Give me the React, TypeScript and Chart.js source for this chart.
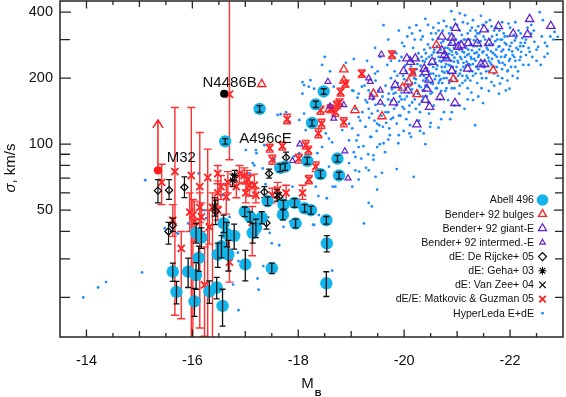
import React, { useEffect, useRef } from 'react';
import { Chart, registerables } from 'chart.js';
import { drawPoint } from 'chart.js/helpers';

Chart.register(...registerables);

// ---------------- axis ticks ----------------
const xTickLabels = [-14, -16, -18, -20, -22];
const xMajorTicks = [-14, -15, -16, -17, -18, -19, -20, -21, -22];
const xMinorTicks = [-14.5, -15.5, -16.5, -17.5, -18.5, -19.5, -20.5, -21.5, -22.5];
const yTickLabels = [50, 100, 200, 400];
const yMinorTicks = [20, 30, 40, 60, 70, 80, 90, 300];

// ---------------- data: [M_B, sigma, ±err] ----------------
const abell496 = [
  [-18.48, 174, 5], [-18.33, 152, 5], [-18.26, 125, 4], [-17.27, 145, 5], [-16.62, 103, 3],
  [-18.17, 84, 3], [-18.74, 86, 3], [-18.42, 73, 3], [-18.77, 72, 2.5], [-17.66, 78, 3],
  [-17.75, 79, 3], [-17.42, 55, 2.5], [-17.72, 53, 2.5], [-17.93, 54, 2.5], [-18.12, 51, 2],
  [-18.24, 50, 2], [-17.71, 47.7, 2.5], [-17.95, 43.5, 2], [-18.53, 45, 1.8], [-16.99, 49.2, 2.5],
  [-17.09, 46.6, 2.5], [-17.31, 46.3, 3], [-17.2, 41.5, 4], [-17.14, 39.4, 4], [-16.59, 43.5, 4],
  [-16.65, 39, 5], [-16.79, 38.2, 5], [-16.07, 39.4, 4], [-16.17, 37.5, 4], [-16.55, 34.3, 4],
  [-16.48, 31.4, 4], [-16.68, 31.4, 5], [-16.12, 30.3, 4], [-15.63, 26.2, 2.5], [-15.92, 26.2, 4],
  [-16.07, 25.3, 3.5], [-15.7, 21.2, 2.5], [-16.32, 21.3, 2.5], [-16.46, 22.2, 2.5], [-16.04, 19.2, 2.8],
  [-16.57, 18.3, 3.5], [-17.0, 28.3, 4.5], [-17.5, 27.2, 1.5], [-18.54, 35.3, 3], [-18.53, 23.2, 3],
];

const benderBulges = [
  [-17.31, 188], [-19.07, 143], [-18.58, 144], [-18.86, 195], [-18.86, 219], [-19.42, 170],
  [-19.58, 134], [-19.97, 181], [-20.08, 192], [-20.24, 169], [-20.61, 283], [-20.93, 198], [-21.68, 217],
];

const benderGiant = [
  [-20.97, 339], [-21.51, 334], [-21.78, 345], [-22.37, 372], [-22.77, 346], [-22.06, 319], [-22.33, 317],
  [-21.6, 289], [-21.38, 288], [-21.21, 289], [-21.02, 278], [-20.9, 306], [-20.71, 309], [-20.91, 290],
  [-21.08, 282], [-20.71, 268], [-20.76, 255], [-20.8, 246], [-20.53, 237], [-20.38, 221], [-20.4, 213],
  [-20.47, 197], [-20.43, 179], [-20.4, 159], [-20.48, 148], [-20.68, 164], [-20.96, 154], [-20.9, 216],
  [-21.2, 221], [-21.45, 232], [-21.52, 232], [-20.05, 246], [-20.12, 237], [-20.21, 246], [-19.99, 215],
  [-19.83, 186], [-20.07, 176], [-19.8, 155], [-20.24, 123],
];

const benderIntermed = [
  [-19.57, 257], [-19.33, 200], [-19.55, 176], [-19.55, 155], [-19.39, 164], [-18.56, 193], [-18.86, 151],
  [-18.6, 149], [-18.67, 131], [-18.03, 100], [-17.89, 84], [-18.88, 93], [-18.94, 70], [-19.36, 193],
];

// [M_B, sigma, low, high]
const deRijcke = [
  [-15.35, 61.4, 54, 69], [-15.56, 61.7, 56, 69], [-15.85, 63.6, 57, 71], [-15.55, 40, 35, 44],
  [-15.63, 42.7, 40, 46], [-16.44, 49.4, 43, 55.5], [-17.36, 60.5, 57, 64], [-17.4, 43.7, 41, 46.5],
  [-17.77, 87, 82, 92], [-17.45, 73.5, 70, 77], [-17.64, 57.5, 55, 60],
];
const geha = [[-16.76, 68.5, 64, 73], [-16.8, 72, 68, 76]];
const vanZee = [[-17.6, 58.6, 55, 62], [-16.42, 52, 47, 57]];

const matkovic = [
  [-15.42, 67, 53, 81], [-15.67, 75, 16.6, 147], [-15.98, 72, 10, 147], [-16.14, 64, 14.5, 113],
  [-16.29, 70.5, 10, 95], [-16.48, 73.5, 66, 80], [-15.95, 49, 40, 60], [-16.01, 47.5, 10, 56],
  [-16.04, 44.3, 36, 55], [-16.14, 51.5, 44, 60], [-16.17, 46.6, 40, 54], [-16.32, 42, 35, 50],
  [-16.38, 51.5, 12, 60], [-16.48, 60, 52, 68], [-16.54, 64, 56, 72], [-16.64, 57.5, 48, 66],
  [-16.67, 67, 60, 75], [-16.83, 64, 57, 71], [-16.89, 73.5, 67, 80], [-17.01, 60, 54, 66],
  [-17.04, 69, 62, 76], [-17.08, 65, 58, 72], [-15.63, 45, 38, 53], [-15.79, 33.5, 16, 40],
  [-16.23, 22.8, 13.3, 34], [-16.7, 29, 23.5, 36.5], [-16.48, 50, 45, 56], [-17.17, 65, 58, 73],
  [-16.98, 72, 66, 78], [-17.2, 58.5, 54, 63], [-17.51, 58.5, 54, 63], [-17.61, 62, 57, 67],
  [-17.77, 60, 55, 65], [-18.08, 60, 56, 65], [-17.13, 44, 31, 52], [-16.7, 169, 85, 600],
  [-17.79, 130, 124, 137], [-18.38, 112, 107, 118], [-18.44, 124, 118, 130], [-18.8, 173, 166, 180],
  [-18.7, 140, 134, 146], [-18.86, 126, 120, 132], [-18.14, 99, 95, 104], [-18.19, 94, 90, 98],
  [-18.01, 86, 82, 90], [-17.46, 96, 92, 100], [-17.51, 85, 81, 89], [-17.7, 98, 94, 102],
  [-18.33, 79, 75, 83], [-18.2, 69, 66, 72], [-19.77, 256, 246, 266], [-19.2, 210, 202, 218],
  [-20.16, 213, 205, 221], [-18.61, 145, 139, 151], [-18.42, 143, 137, 149], [-18.78, 155, 149, 161],
  [-18.89, 189, 182, 196], [-18.73, 151, 145, 157],
];

// HyperLeda E+dE
const hyperDwarf = [
  [-13.94, 20], [-14.22, 22.2], [-14.37, 23.5], [-15.05, 26], [-15.48, 41.3], [-15.73, 39], [-15.92, 43.5],
  [-15.11, 68.5], [-16.12, 73.5], [-16.23, 50], [-16.57, 58.5], [-17.08, 73.5], [-17.17, 80], [-17.01, 94],
  [-17.21, 91], [-15.7, 39.3], [-16.67, 56], [-16.26, 46], [-16.48, 49], [-16.86, 32], [-16.87, 29.3],
  [-16.77, 22.9], [-16.87, 17.5], [-17.23, 24.4], [-17.25, 21.7], [-18.38, 58], [-18.54, 56.7], [-19.24, 43.5],
  [-19.33, 54], [-19.39, 52], [-17.85, 44.5], [-17.72, 42], [-18.28, 43], [-17.5, 35.3], [-17.64, 34.6],
  [-17.34, 27.8], [-18.64, 26.5], [-17.46, 39.4], [-17.89, 64], [-18.3, 42.8], [-18.65, 64], [-17.38, 65.7],
  [-16.7, 46.6], [-18.39, 47.5],
];
const hyperTail = [
  [-18.11, 186], [-18.2, 183], [-18.3, 179], [-18.08, 170], [-17.67, 137], [-17.77, 140], [-17.83, 126],
  [-18.02, 129], [-18.11, 138], [-18.14, 116], [-18.52, 112], [-18.58, 106], [-18.64, 102], [-18.45, 97],
  [-18.36, 91], [-18.02, 91], [-17.92, 88], [-17.7, 97], [-17.36, 99], [-17.2, 94], [-17.14, 82],
  [-17.33, 77.5], [-17.55, 85], [-18.36, 76], [-18.58, 79], [-18.96, 82], [-19.08, 76], [-19.14, 69],
  [-19.02, 64], [-18.7, 64], [-18.33, 64], [-19.08, 87.5], [-19.14, 97], [-18.96, 104], [-18.83, 116],
  [-18.96, 124], [-19.14, 133], [-19.27, 120], [-19.36, 108], [-19.39, 138], [-19.27, 159], [-19.14, 170],
  [-19.02, 176], [-19.2, 183], [-19.33, 176], [-19.42, 164], [-19.46, 151], [-19.49, 124], [-19.49, 97],
  [-19.42, 85], [-19.33, 76], [-19.46, 71], [-19.49, 62], [-18.77, 170], [-18.67, 183], [-18.23, 196],
  [-18.08, 192], [-17.61, 136], [-18.45, 230], [-18.6, 215], [-18.5, 250], [-18.9, 235], [-19.05, 245],
];
const hyperCloud = [
  [-19.02, 118], [-19.05, 92], [-19.08, 145], [-19.1, 104], [-19.12, 163], [-19.15, 75], [-19.17, 128],
  [-19.19, 86], [-19.04, 175], [-19.13, 110], [-19.21, 140], [-19.23, 98], [-19.25, 185], [-19.27, 120],
  [-19.3, 155], [-19.32, 90], [-19.34, 132], [-19.36, 170], [-19.38, 108], [-19.39, 225], [-19.28, 78],
  [-19.33, 145], [-19.41, 160], [-19.42, 89], [-19.44, 128], [-19.46, 195], [-19.48, 115], [-19.5, 142],
  [-19.52, 176], [-19.54, 100], [-19.55, 250], [-19.57, 135], [-19.58, 74], [-19.59, 165], [-19.45, 210],
  [-19.53, 122], [-19.61, 101], [-19.61, 349], [-19.63, 150], [-19.65, 185], [-19.66, 125], [-19.68, 230],
  [-19.7, 140], [-19.71, 170], [-19.73, 110], [-19.75, 200], [-19.76, 158], [-19.78, 265], [-19.79, 132],
  [-19.64, 92], [-19.72, 118], [-19.77, 178], [-19.81, 145], [-19.82, 215], [-19.84, 172], [-19.86, 77],
  [-19.86, 124], [-19.88, 190], [-19.89, 101], [-19.9, 156], [-19.91, 240], [-19.93, 135], [-19.94, 180],
  [-19.96, 290], [-19.97, 148], [-19.98, 205], [-19.99, 115], [-19.85, 260], [-19.92, 165], [-20.01, 160],
  [-20.02, 228], [-20.04, 130], [-20.05, 195], [-20.06, 310], [-20.08, 172], [-20.09, 140], [-20.1, 250],
  [-20.12, 185], [-20.13, 108], [-20.14, 210], [-20.15, 155], [-20.17, 275], [-20.18, 71], [-20.18, 168],
  [-20.19, 200], [-20.03, 180], [-20.11, 122], [-20.16, 238], [-20.21, 190], [-20.22, 145], [-20.23, 349],
  [-20.24, 220], [-20.26, 170], [-20.27, 260], [-20.28, 128], [-20.3, 205], [-20.31, 182], [-20.32, 300],
  [-20.34, 158], [-20.35, 240], [-20.36, 195], [-20.37, 112], [-20.38, 270], [-20.39, 175], [-20.25, 232],
  [-20.33, 215], [-20.29, 152], [-20.4, 100], [-20.4, 373], [-20.41, 200], [-20.42, 245], [-20.43, 165],
  [-20.45, 285], [-20.46, 215], [-20.47, 138], [-20.48, 230], [-20.5, 190], [-20.51, 320], [-20.52, 255],
  [-20.53, 172], [-20.55, 210], [-20.56, 150], [-20.57, 270], [-20.58, 198], [-20.59, 235], [-20.44, 182],
  [-20.54, 300], [-20.49, 120], [-20.61, 220], [-20.62, 180], [-20.63, 262], [-20.65, 119], [-20.65, 357],
  [-20.66, 205], [-20.67, 240], [-20.68, 160], [-20.7, 290], [-20.71, 225], [-20.72, 190], [-20.73, 330],
  [-20.74, 248], [-20.75, 140], [-20.76, 212], [-20.77, 275], [-20.78, 175], [-20.79, 232], [-20.64, 305],
  [-20.69, 198], [-20.8, 258], [-20.81, 215], [-20.82, 300], [-20.83, 159], [-20.84, 245], [-20.85, 195],
  [-20.86, 270], [-20.87, 228], [-20.88, 340], [-20.89, 404], [-20.9, 180], [-20.91, 255], [-20.92, 210],
  [-20.93, 312], [-20.94, 238], [-20.95, 150], [-20.96, 285], [-20.97, 200], [-20.98, 262], [-20.99, 225],
  [-20.87, 130], [-21.01, 240], [-21.02, 205], [-21.03, 290], [-21.04, 170], [-21.05, 330], [-21.06, 250],
  [-21.07, 218], [-21.08, 275], [-21.1, 190], [-21.11, 360], [-21.12, 235], [-21.13, 262], [-21.14, 145],
  [-21.15, 387], [-21.16, 300], [-21.17, 228], [-21.18, 205], [-21.19, 255], [-21.09, 315], [-21.2, 180],
  [-21.21, 270], [-21.22, 232], [-21.24, 300], [-21.25, 195], [-21.26, 250], [-21.28, 340], [-21.29, 215],
  [-21.3, 159], [-21.3, 368], [-21.31, 280], [-21.32, 245], [-21.34, 122], [-21.35, 310], [-21.36, 225],
  [-21.37, 262], [-21.38, 190], [-21.39, 290], [-21.27, 172], [-21.41, 255], [-21.42, 320], [-21.44, 230],
  [-21.45, 280], [-21.47, 200], [-21.48, 350], [-21.49, 154], [-21.5, 265], [-21.52, 240], [-21.53, 300],
  [-21.55, 215], [-21.56, 275], [-21.58, 330], [-21.59, 248], [-21.46, 180], [-21.61, 285], [-21.62, 368],
  [-21.63, 235], [-21.65, 192], [-21.66, 310], [-21.68, 260], [-21.7, 225], [-21.72, 295], [-21.74, 340],
  [-21.75, 250], [-21.77, 205], [-21.78, 278], [-21.79, 170], [-21.81, 189], [-21.82, 300], [-21.84, 265],
  [-21.86, 235], [-21.88, 320], [-21.9, 250], [-21.92, 176], [-21.93, 285], [-21.95, 215], [-21.96, 217],
  [-21.97, 355], [-21.99, 179], [-21.98, 270], [-22.02, 225], [-22.03, 290], [-22.05, 255], [-22.07, 315],
  [-22.09, 297], [-22.1, 240], [-22.12, 275], [-22.14, 200], [-22.16, 330], [-22.18, 242], [-22.19, 280],
  [-22.21, 264], [-22.23, 305], [-22.25, 230], [-22.28, 290], [-22.3, 255], [-22.33, 340], [-22.35, 275],
  [-22.37, 264], [-22.4, 319], [-22.42, 250], [-22.46, 293], [-22.5, 270], [-22.53, 278], [-22.56, 400],
  [-22.58, 230], [-22.62, 368], [-22.66, 290], [-22.71, 259], [-22.76, 310], [-22.84, 325], [-22.9, 309],
];
const hyperCore = [
  [-19.82, 182], [-19.87, 205], [-19.95, 172], [-20.0, 198], [-20.03, 215], [-20.07, 188], [-20.1, 205],
  [-20.13, 226], [-20.15, 178], [-20.2, 212], [-20.22, 198], [-20.26, 245], [-20.28, 185], [-20.31, 228],
  [-20.33, 250], [-20.35, 176], [-20.37, 205], [-20.39, 238], [-20.41, 260], [-20.43, 222], [-20.45, 195],
  [-20.47, 250], [-20.49, 275], [-20.5, 210], [-20.52, 232], [-20.54, 188], [-20.56, 262], [-20.58, 245],
  [-20.6, 205], [-20.62, 280], [-20.63, 228], [-20.65, 250], [-20.67, 195], [-20.69, 270], [-20.7, 238],
  [-20.72, 215], [-20.74, 295], [-20.75, 260], [-20.77, 225], [-20.78, 245], [-20.8, 200], [-20.82, 275],
  [-20.84, 230], [-20.85, 258], [-20.86, 210], [-20.88, 290], [-20.89, 240], [-20.9, 265], [-20.92, 225],
  [-20.94, 275], [-20.95, 248], [-20.97, 215], [-20.98, 300], [-21.0, 258], [-21.02, 235], [-21.04, 270],
  [-21.05, 210], [-21.07, 295], [-21.08, 245], [-21.1, 265], [-21.12, 225], [-21.13, 300], [-21.15, 250],
  [-21.17, 275], [-21.18, 238], [-21.2, 320], [-21.22, 258], [-21.23, 215], [-21.25, 285], [-21.27, 245],
  [-21.28, 268], [-21.3, 232], [-21.32, 298], [-21.33, 260], [-21.35, 240], [-21.37, 280], [-21.38, 320],
  [-21.4, 250], [-21.42, 270], [-21.44, 295], [-21.46, 240], [-21.48, 262], [-21.5, 310], [-21.52, 225],
  [-21.54, 285], [-21.56, 255], [-21.58, 270], [-21.6, 240], [-21.62, 300], [-21.64, 265], [-21.66, 245],
  [-21.68, 285], [-21.7, 330], [-21.72, 255], [-21.74, 270], [-21.76, 300], [-21.78, 240], [-21.8, 280],
  [-21.83, 250], [-21.85, 300], [-21.87, 270], [-21.9, 290], [-21.92, 255], [-21.95, 310], [-21.98, 240],
  [-22.0, 280], [-22.04, 265], [-22.08, 250], [-22.11, 305], [-22.15, 270], [-22.2, 290], [-22.25, 280],
  [-22.3, 300], [-19.6, 120], [-19.65, 140], [-19.7, 160], [-19.75, 130], [-19.8, 170], [-19.85, 150],
  [-19.9, 135], [-19.95, 160], [-20.0, 145], [-20.05, 165], [-20.1, 150], [-20.15, 190], [-20.2, 160],
  [-20.25, 175], [-20.3, 140], [-20.35, 165], [-20.4, 185], [-20.45, 155], [-20.5, 170], [-20.55, 225],
  [-20.6, 180], [-20.65, 190], [-20.7, 175], [-20.75, 200], [-20.8, 180], [-20.85, 190], [-20.9, 195],
  [-20.95, 180], [-21.0, 195], [-21.05, 185], [-21.1, 205], [-21.15, 195], [-21.2, 200], [-21.25, 230],
  [-21.3, 205], [-21.35, 210], [-21.4, 220], [-21.45, 210], [-21.5, 225], [-21.55, 200], [-21.6, 215],
  [-21.65, 230], [-21.7, 210], [-21.75, 225], [-21.8, 235], [-21.85, 220], [-21.9, 230], [-22.0, 245],
  [-22.1, 225], [-22.2, 250],
];
const hyperUpper = [
  [-19.3, 240], [-19.45, 275], [-19.7, 300], [-19.9, 330], [-20.1, 340], [-20.0, 280], [-20.2, 300],
  [-20.3, 330], [-20.45, 350], [-20.55, 340], [-20.6, 320], [-20.75, 365], [-20.8, 345], [-20.95, 370],
  [-21.0, 350], [-21.05, 395], [-21.2, 355], [-21.25, 330], [-21.4, 345], [-21.45, 385], [-21.55, 360],
  [-21.65, 345], [-21.8, 330], [-21.85, 360], [-22.0, 340], [-22.1, 360], [-22.2, 320], [-22.45, 330],
  [-22.6, 310], [-22.7, 280], [-22.82, 300], [-22.4, 350], [-21.9, 310], [-21.75, 315], [-21.35, 330],
  [-20.85, 320], [-20.65, 330], [-20.35, 310], [-20.15, 320], [-19.95, 250], [-19.75, 240], [-19.5, 215],
  [-22.5, 240], [-22.65, 250], [-22.35, 230], [-22.15, 215], [-22.05, 205], [-21.95, 195], [-21.85, 200],
  [-21.7, 185], [-21.6, 175], [-21.4, 165], [-21.2, 160], [-21.05, 150], [-20.9, 140], [-20.7, 130],
  [-20.5, 125], [-20.3, 115], [-20.1, 112], [-19.9, 110], [-19.7, 105],
];

// special galaxies
const n4486b = [[-16.6, 170]];
const m32 = [[-15.35, 76]];
const m32LowerLimitTop = 129;
const a496ce = [-16.62, 103];

// labels
const annotations = [
  { text: 'N4486B', ref: 'n4486b', dx: 5.5, dy: -6.5, align: 'center' },
  { text: 'A496cE', ref: 'a496ce', dx: 14, dy: 2, align: 'left' },
  { text: 'M32', ref: 'm32', dx: 8.7, dy: -8.5, align: 'left' },
];

const FONT = '"Liberation Sans", Arial, Helvetica, sans-serif';
const CYAN = '#12b4ea';
const BLUE = '#1e8cff';
const RED = '#ff1e1e';
const PURPLE = '#6221c9';
const INK = '#111111';

const toPts = (rows) => rows.map((r) => ({ x: r[0], y: r[1] }));

const errorBarPlugin = {
  id: 'errorBars',
  afterDatasetDraw(chart, args) {
    const ds = chart.data.datasets[args.index];
    if (!ds.errBars) return;
    const ctx = chart.ctx;
    const area = chart.chartArea;
    const ys = chart.scales.y;
    ctx.save();
    ctx.beginPath();
    ctx.rect(area.left, area.top, area.right - area.left, area.bottom - area.top);
    ctx.clip();
    ctx.strokeStyle = ds.errColor;
    ctx.lineWidth = ds.errWidth;
    const cap = ds.errCap;
    ds.errBars.forEach((b, i) => {
      const el = args.meta.data[i];
      if (!el) return;
      const x = el.x;
      const yl = ys.getPixelForValue(b[0]);
      const yh = ys.getPixelForValue(b[1]);
      ctx.beginPath();
      ctx.moveTo(x, yl);
      ctx.lineTo(x, yh);
      ctx.moveTo(x - cap, yl);
      ctx.lineTo(x + cap, yl);
      ctx.moveTo(x - cap, yh);
      ctx.lineTo(x + cap, yh);
      ctx.stroke();
    });
    ctx.restore();
  },
};

const decorPlugin = {
  id: 'decor',
  afterDraw(chart) {
    const ctx = chart.ctx;
    const a = chart.chartArea;
    const xs = chart.scales.x;
    const ys = chart.scales.y;
    ctx.save();
    // frame
    ctx.strokeStyle = '#262626';
    ctx.lineWidth = 1.5;
    ctx.strokeRect(a.left, a.top, a.right - a.left, a.bottom - a.top);
    // inward ticks
    ctx.lineWidth = 1.3;
    const xt = (v, len) => {
      const p = xs.getPixelForValue(v);
      ctx.beginPath();
      ctx.moveTo(p, a.bottom);
      ctx.lineTo(p, a.bottom - len);
      ctx.moveTo(p, a.top);
      ctx.lineTo(p, a.top + len);
      ctx.stroke();
    };
    xMajorTicks.forEach((v) => xt(v, xTickLabels.includes(v) ? 7.5 : 6));
    xMinorTicks.forEach((v) => xt(v, 4));
    const yt = (v, lenL, lenR) => {
      const p = ys.getPixelForValue(v);
      ctx.beginPath();
      ctx.moveTo(a.left, p);
      ctx.lineTo(a.left + lenL, p);
      ctx.moveTo(a.right, p);
      ctx.lineTo(a.right - lenR, p);
      ctx.stroke();
    };
    yTickLabels.forEach((v) => yt(v, 11, 9));
    yMinorTicks.forEach((v) => yt(v, 10, 8));

    // M32 lower-limit arrow
    const mx = xs.getPixelForValue(m32[0][0]);
    const my = ys.getPixelForValue(m32[0][1]);
    const ty = ys.getPixelForValue(m32LowerLimitTop);
    ctx.strokeStyle = RED;
    ctx.lineWidth = 1.5;
    ctx.beginPath();
    ctx.moveTo(mx, my);
    ctx.lineTo(mx, ty);
    ctx.moveTo(mx - 5, ty + 8);
    ctx.lineTo(mx, ty);
    ctx.lineTo(mx + 5, ty + 8);
    ctx.stroke();

    // annotations
    ctx.fillStyle = INK;
    ctx.font = `15px ${FONT}`;
    ctx.textBaseline = 'alphabetic';
    const refs = { n4486b: n4486b[0], a496ce, m32: m32[0] };
    annotations.forEach((an) => {
      const r = refs[an.ref];
      const px = xs.getPixelForValue(r[0]);
      const py = ys.getPixelForValue(r[1]);
      ctx.textAlign = an.align;
      ctx.fillText(an.text, px + an.dx, py + an.dy);
    });

    // axis titles
    ctx.save();
    ctx.translate(14.5, 168);
    ctx.rotate(-Math.PI / 2);
    ctx.font = `italic 15px ${FONT}`;
    const w1 = ctx.measureText('σ').width;
    ctx.font = `15px ${FONT}`;
    const w2 = ctx.measureText(', km/s').width;
    const start = -(w1 + w2) / 2;
    ctx.textAlign = 'left';
    ctx.font = `italic 15px ${FONT}`;
    ctx.fillText('σ', start, 0);
    ctx.font = `15px ${FONT}`;
    ctx.fillText(', km/s', start + w1, 0);
    ctx.restore();

    const cx = (a.left + a.right) / 2;
    ctx.font = `15px ${FONT}`;
    const mw = ctx.measureText('M').width;
    ctx.font = `bold 9.5px ${FONT}`;
    const bw = ctx.measureText('B').width;
    const sx = cx - (mw + bw + 1) / 2;
    ctx.textAlign = 'left';
    ctx.font = `15px ${FONT}`;
    ctx.fillText('M', sx, 387.5);
    ctx.font = `bold 9.5px ${FONT}`;
    ctx.fillText('B', sx + mw + 1, 396);

    // legend
    const rows = chart.data.datasets.filter((d) => d.legendRow !== undefined);
    rows.sort((p, q) => p.legendRow - q.legendRow);
    ctx.font = `10.6px ${FONT}`;
    ctx.textAlign = 'right';
    ctx.textBaseline = 'middle';
    rows.forEach((d) => {
      const y = 200 + d.legendRow * 14.15;
      ctx.fillStyle = INK;
      ctx.fillText(d.label, 534, y + 0.5);
      ctx.fillStyle = d.pointBackgroundColor;
      ctx.strokeStyle = d.pointBorderColor;
      ctx.lineWidth = d.pointBorderWidth;
      drawPoint(ctx, { pointStyle: d.pointStyle, radius: d.legendRadius, rotation: 0, borderWidth: d.pointBorderWidth }, 542.5, y);
    });
    ctx.restore();
  },
};

const NONE = 'rgba(0,0,0,0)';

export default function App() {
  const ref = useRef(null);
  useEffect(() => {
    document.body.style.margin = '0';
    const datasets = [
      {
        label: 'Abell 496', data: toPts(abell496), pointStyle: 'circle', pointRadius: 6.2,
        pointBackgroundColor: CYAN, pointBorderColor: CYAN, pointBorderWidth: 0, order: 2,
        errBars: abell496.map((r) => [r[1] - r[2], r[1] + r[2]]), errColor: '#111', errWidth: 1.3, errCap: 3,
        legendRow: 0, legendRadius: 5.8,
      },
      {
        label: 'Bender+ 92 bulges', data: toPts(benderBulges), pointStyle: 'triangle', pointRadius: 4.8,
        pointBackgroundColor: NONE, pointBorderColor: RED, pointBorderWidth: 1.3, order: 8,
        legendRow: 1, legendRadius: 4.6,
      },
      {
        label: 'Bender+ 92 giant-E', data: toPts(benderGiant), pointStyle: 'triangle', pointRadius: 4.8,
        pointBackgroundColor: NONE, pointBorderColor: PURPLE, pointBorderWidth: 1.3, order: 7,
        legendRow: 2, legendRadius: 4.6,
      },
      {
        label: 'Bender+ 92 intermed.-E', data: toPts(benderIntermed), pointStyle: 'triangle', pointRadius: 3.4,
        pointBackgroundColor: NONE, pointBorderColor: PURPLE, pointBorderWidth: 1.2, order: 6,
        legendRow: 3, legendRadius: 3.2,
      },
      {
        label: 'dE: De Rijcke+ 05', data: toPts(deRijcke), pointStyle: 'rectRot', pointRadius: 3.6,
        pointBackgroundColor: NONE, pointBorderColor: '#000', pointBorderWidth: 1.2, order: 5,
        errBars: deRijcke.map((r) => [r[2], r[3]]), errColor: '#111', errWidth: 1.2, errCap: 3,
        legendRow: 4, legendRadius: 4,
      },
      {
        label: 'dE: Geha+ 03', data: toPts(geha), pointStyle: 'star', pointRadius: 3.8,
        pointBackgroundColor: NONE, pointBorderColor: '#000', pointBorderWidth: 1.1, order: 4,
        errBars: geha.map((r) => [r[2], r[3]]), errColor: '#111', errWidth: 1.2, errCap: 3,
        legendRow: 5, legendRadius: 4,
      },
      {
        label: 'dE: Van Zee+ 04', data: toPts(vanZee), pointStyle: 'crossRot', pointRadius: 4.2,
        pointBackgroundColor: NONE, pointBorderColor: '#000', pointBorderWidth: 1.2, order: 3,
        errBars: vanZee.map((r) => [r[2], r[3]]), errColor: '#111', errWidth: 1.2, errCap: 3,
        legendRow: 6, legendRadius: 4.6,
      },
      {
        label: 'dE/E: Matkovic & Guzman 05', data: toPts(matkovic), pointStyle: 'crossRot', pointRadius: 5,
        pointBackgroundColor: NONE, pointBorderColor: RED, pointBorderWidth: 1.8, order: 9,
        errBars: matkovic.map((r) => [r[2], r[3]]), errColor: '#ff3030', errWidth: 1.4, errCap: 4,
        legendRow: 7, legendRadius: 4.6,
      },
      {
        label: 'HyperLeda E+dE', data: toPts([...hyperDwarf, ...hyperTail, ...hyperCloud, ...hyperCore, ...hyperUpper]),
        pointStyle: 'circle', pointRadius: 1.4, pointBackgroundColor: BLUE, pointBorderColor: BLUE,
        pointBorderWidth: 0, order: 10, legendRow: 8, legendRadius: 1.4,
      },
      {
        label: 'N4486B', data: toPts(n4486b), pointStyle: 'circle', pointRadius: 4,
        pointBackgroundColor: '#000', pointBorderColor: '#000', pointBorderWidth: 0, order: 1,
      },
      {
        label: 'M32', data: toPts(m32), pointStyle: 'circle', pointRadius: 4.2,
        pointBackgroundColor: RED, pointBorderColor: RED, pointBorderWidth: 0, order: 1,
      },
    ];

    const chart = new Chart(ref.current, {
      type: 'scatter',
      data: { datasets },
      options: {
        animation: false,
        responsive: false,
        maintainAspectRatio: false,
        layout: { autoPadding: false, padding: { top: 1, right: 3, left: 0, bottom: 0 } },
        plugins: { legend: { display: false }, tooltip: { enabled: false } },
        scales: {
          x: {
            type: 'linear', reverse: true, min: -23, max: -13.5,
            grid: { display: false, drawTicks: false }, border: { display: false },
            ticks: { font: { family: FONT, size: 14.5 }, color: INK, padding: 15, maxRotation: 0, callback: (v) => String(v) },
            afterBuildTicks: (s) => { s.ticks = xTickLabels.map((v) => ({ value: v })); },
            afterFit: (s) => { s.height = 60; s.paddingLeft = 0; s.paddingRight = 0; },
          },
          y: {
            type: 'logarithmic', min: 13.2, max: 450,
            grid: { display: false, drawTicks: false }, border: { display: false },
            ticks: { font: { family: FONT, size: 14.5 }, color: INK, padding: 7, callback: (v) => String(v) },
            afterBuildTicks: (s) => { s.ticks = yTickLabels.map((v) => ({ value: v })); },
            afterFit: (s) => { s.width = 60; s.paddingTop = 0; s.paddingBottom = 0; },
          },
        },
      },
      plugins: [errorBarPlugin, decorPlugin],
    });
    return () => chart.destroy();
  }, []);
  return <canvas ref={ref} width={566} height={397} style={{ display: 'block' }} />;
}
